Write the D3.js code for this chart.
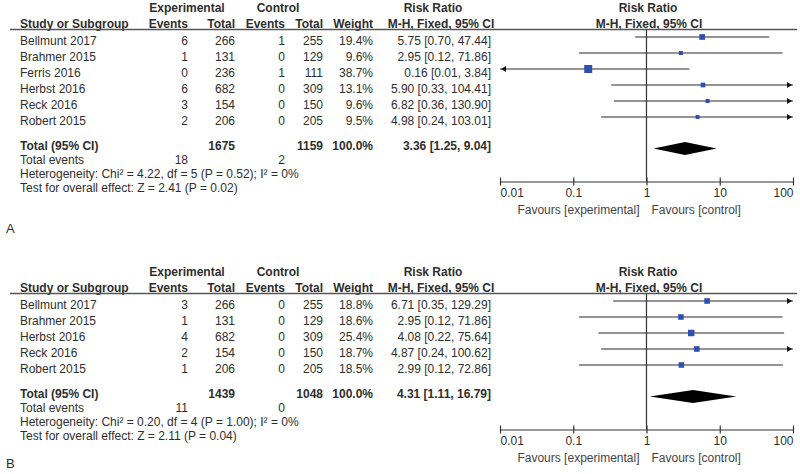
<!DOCTYPE html>
<html>
<head>
<meta charset="utf-8">
<title>Risk ratio forest plots</title>
<script src="https://cdn.jsdelivr.net/npm/d3@7"></script>
<style>
  body { margin: 0; background: #fff; }
  #chart { font-family: "Liberation Sans", Arial, sans-serif; font-size: 12px; }
  #chart text { fill: #2e2e2e; }
  .bold { font-weight: bold; }
</style>
</head>
<body>
<svg id="chart" width="800" height="474"></svg>
<script>
  // panel A data
  studiesA = ["Bellmunt 2017", "Brahmer 2015", "Ferris 2016", "Herbst 2016", "Reck 2016", "Robert 2015"];
  expEventsA = [6, 1, 0, 6, 3, 2];
  expTotalA = [266, 131, 236, 682, 154, 206];
  ctlEventsA = [1, 0, 1, 0, 0, 0];
  ctlTotalA = [255, 129, 111, 309, 150, 205];
  weightA = [19.4, 9.6, 38.7, 13.1, 9.6, 9.5];
  rrA = [5.75, 2.95, 0.16, 5.90, 6.82, 4.98];
  lowerA = [0.70, 0.12, 0.01, 0.33, 0.36, 0.24];
  upperA = [47.44, 71.86, 3.84, 104.41, 130.90, 103.01];
  totalsA = [1675, 1159, 18, 2];            // exp total, ctl total, exp events, ctl events
  pooledA = [3.36, 1.25, 9.04];             // rr, lower, upper
  hetA = "Heterogeneity: Chi² = 4.22, df = 5 (P = 0.52); I² = 0%";
  testA = "Test for overall effect: Z = 2.41 (P = 0.02)";

  // panel B data
  studiesB = ["Bellmunt 2017", "Brahmer 2015", "Herbst 2016", "Reck 2016", "Robert 2015"];
  expEventsB = [3, 1, 4, 2, 1];
  expTotalB = [266, 131, 682, 154, 206];
  ctlEventsB = [0, 0, 0, 0, 0];
  ctlTotalB = [255, 129, 309, 150, 205];
  weightB = [18.8, 18.6, 25.4, 18.7, 18.5];
  rrB = [6.71, 2.95, 4.08, 4.87, 2.99];
  lowerB = [0.35, 0.12, 0.22, 0.24, 0.12];
  upperB = [129.29, 71.86, 75.64, 100.62, 72.86];
  totalsB = [1439, 1048, 11, 0];
  pooledB = [4.31, 1.11, 16.79];
  hetB = "Heterogeneity: Chi² = 0.20, df = 4 (P = 1.00); I² = 0%";
  testB = "Test for overall effect: Z = 2.11 (P = 0.04)";

  axisTicks = [0.01, 0.1, 1, 10, 100];

  panels = [
    { letter: "A", top: 0, letterY: 228, studies: studiesA, expEv: expEventsA, expTot: expTotalA,
      ctlEv: ctlEventsA, ctlTot: ctlTotalA, weight: weightA, rr: rrA, lo: lowerA, hi: upperA,
      totals: totalsA, pooled: pooledA, het: hetA, test: testA },
    { letter: "B", top: 264, letterY: 199, studies: studiesB, expEv: expEventsB, expTot: expTotalB,
      ctlEv: ctlEventsB, ctlTot: ctlTotalB, weight: weightB, rr: rrB, lo: lowerB, hi: upperB,
      totals: totalsB, pooled: pooledB, het: hetB, test: testB }
  ];

  // scales & formats
  x = d3.scaleLog().domain([0.01, 100]).range([500, 793]);
  rowY = d3.scaleLinear().domain([0, 1]).range([37, 53]);
  boxSize = d3.scaleSqrt().domain([0, 38.7]).range([0, 8]);
  f2 = d3.format(".2f");
  f1 = d3.format(".1f");
  ciText = function(r, l, h) { return f2(r) + " [" + f2(l) + ", " + f2(h) + "]"; };

  // column anchors
  col = { study: 20, expEv: 188, expTot: 235, ctlEv: 285, ctlTot: 323, weight: 373, ci: 491 };

  svg = d3.select("#chart");
  xMin = x.domain()[0];
  xMax = x.domain()[1];

  panels.forEach(function(p) {
    g = svg.append("g").attr("transform", "translate(0," + p.top + ")");
    n = p.studies.length;
    last = rowY(n - 1);
    totalY = last + 29;
    diamondY = last + 31.5;
    axisY = last + 64.5;

    function txt(s, xx, cy, anchor, bold) {
      return g.append("text")
        .attr("x", xx)
        .attr("y", cy + 4.3)
        .attr("text-anchor", anchor || "start")
        .classed("bold", !!bold)
        .text(s);
    }

    // headers
    txt("Experimental", 187, 7.3, "middle", true);
    txt("Control", 278, 7.3, "middle", true);
    txt("Risk Ratio", 433, 7.3, "middle", true);
    txt("Risk Ratio", 648, 7.3, "middle", true);
    txt("Study or Subgroup", col.study, 24, "start", true);
    txt("Events", col.expEv, 24, "end", true);
    txt("Total", col.expTot, 24, "end", true);
    txt("Events", col.ctlEv, 24, "end", true);
    txt("Total", col.ctlTot, 24, "end", true);
    txt("Weight", col.weight, 24, "end", true);
    txt("M-H, Fixed, 95% CI", 441, 24, "middle", true);
    txt("M-H, Fixed, 95% CI", 649, 24, "middle", true);

    g.append("line")
      .attr("x1", 10).attr("x2", 797)
      .attr("y1", 29.5).attr("y2", 29.5)
      .attr("stroke", "#555").attr("stroke-width", 1.3);

    // study rows text
    p.studies.forEach(function(s, i) {
      var cy = rowY(i) + 4;
      txt(s, col.study, cy);
      txt(p.expEv[i], col.expEv, cy, "end");
      txt(p.expTot[i], col.expTot, cy, "end");
      txt(p.ctlEv[i], col.ctlEv, cy, "end");
      txt(p.ctlTot[i], col.ctlTot, cy, "end");
      txt(f1(p.weight[i]) + "%", col.weight, cy, "end");
      txt(ciText(p.rr[i], p.lo[i], p.hi[i]), col.ci, cy, "end");
    });

    // totals
    txt("Total (95% CI)", col.study, totalY, "start", true);
    txt(p.totals[0], col.expTot, totalY, "end", true);
    txt(p.totals[1], col.ctlTot, totalY, "end", true);
    txt("100.0%", col.weight, totalY, "end", true);
    txt(ciText(p.pooled[0], p.pooled[1], p.pooled[2]), col.ci, totalY, "end", true);
    txt("Total events", col.study, totalY + 14);
    txt(p.totals[2], col.expEv, totalY + 14, "end");
    txt(p.totals[3], col.ctlEv, totalY + 14, "end");
    txt(p.het, col.study, totalY + 27.5);
    txt(p.test, col.study, totalY + 41.5);

    // panel letter
    g.append("text")
      .attr("x", 6).attr("y", p.letterY + 4.6)
      .style("font-size", "13px")
      .text(p.letter);

    // line of no effect
    g.append("line")
      .attr("x1", x(1)).attr("x2", x(1))
      .attr("y1", 29.5).attr("y2", axisY)
      .attr("stroke", "#333").attr("stroke-width", 1.2);

    // confidence intervals
    p.studies.forEach(function(s, i) {
      var y = rowY(i);
      var lo = Math.max(p.lo[i], xMin), hi = Math.min(p.hi[i], xMax);
      g.append("line")
        .attr("x1", x(lo)).attr("x2", x(hi))
        .attr("y1", y).attr("y2", y)
        .attr("stroke", "#2a2a2a").attr("stroke-width", 1.2);
      if (p.hi[i] > xMax) {
        var tx = x(xMax) - 1;
        g.append("path")
          .attr("d", "M" + tx + "," + y + "L" + (tx - 5) + "," + (y - 3) + "L" + (tx - 5) + "," + (y + 3) + "Z")
          .attr("fill", "#111");
      }
      if (p.lo[i] <= xMin) {
        var lx = x(xMin) + 1;
        g.append("path")
          .attr("d", "M" + lx + "," + y + "L" + (lx + 5) + "," + (y - 3) + "L" + (lx + 5) + "," + (y + 3) + "Z")
          .attr("fill", "#111");
      }
      var b = boxSize(p.weight[i]);
      g.append("rect")
        .attr("x", x(p.rr[i]) - b / 2).attr("y", y - b / 2)
        .attr("width", b).attr("height", b)
        .attr("fill", "#2f4fb0");
    });

    // pooled diamond
    g.append("path")
      .attr("d", "M" + x(p.pooled[1]) + "," + diamondY +
                 "L" + x(p.pooled[0]) + "," + (diamondY - 6.5) +
                 "L" + x(p.pooled[2]) + "," + diamondY +
                 "L" + x(p.pooled[0]) + "," + (diamondY + 6.5) + "Z")
      .attr("fill", "#000");

    // axis
    var axis = d3.axisBottom(x)
      .tickValues(axisTicks)
      .tickFormat(d3.format("~g"))
      .tickSizeInner(4)
      .tickSizeOuter(0)
      .tickPadding(3);
    var ag = g.append("g")
      .attr("transform", "translate(0," + axisY + ")")
      .call(axis);
    ag.select(".domain").attr("stroke", "#333").attr("stroke-width", 1.2);
    ag.selectAll(".tick line").attr("y1", -4).attr("y2", 4).attr("stroke", "#333").attr("stroke-width", 1.2);
    ag.selectAll(".tick text")
      .style("font-family", "\"Liberation Sans\", Arial, sans-serif")
      .style("font-size", "12px")
      .attr("fill", "#333")
      .attr("text-anchor", function(d, i) { return i === 0 ? "start" : (i === axisTicks.length - 1 ? "end" : "middle"); });

    txt("Favours [experimental]", x(1) - 7, axisY + 28, "end").style("fill", "#444");
    txt("Favours [control]", x(1) + 5, axisY + 28, "start").style("fill", "#444");
  });
</script>
</body>
</html>
